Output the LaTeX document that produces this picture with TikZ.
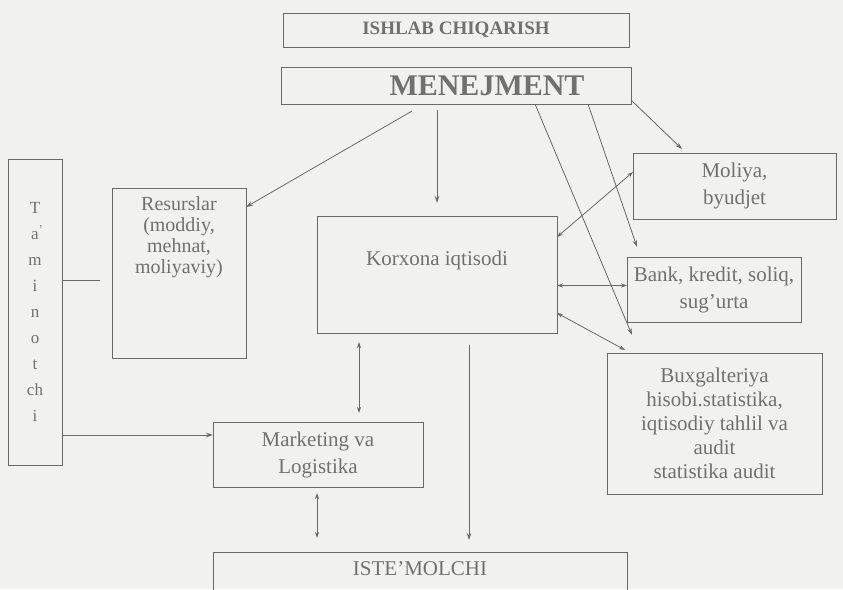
\documentclass[tikz,border=0pt]{standalone}
\usepackage{fontspec}
\setmainfont{Liberation Serif}
\usetikzlibrary{arrows.meta}
\definecolor{ink}{RGB}{105,105,105}
\definecolor{txt}{RGB}{112,112,112}
\definecolor{bg}{RGB}{241,241,239}
\tikzset{
  box/.style={draw=ink, line width=0.8pt, inner sep=0pt, outer sep=0pt, align=center, text=txt},
  conn/.style={draw=ink, line width=0.8pt},
  arr/.style={conn, -{Stealth[length=7pt,width=4.5pt]}},
  dbl/.style={conn, {Stealth[length=6pt,width=4pt]}-{Stealth[length=6pt,width=4pt]}},
  tx/.style={text=txt, align=center, inner sep=0pt}
}
\begin{document}
\begin{tikzpicture}[x=1pt,y=-1pt]
\clip (0,0) rectangle (843,589);
\fill[bg] (0,0) rectangle (843,589);

% nodes
\node[box, minimum width=346pt, minimum height=34pt, font=\fontsize{19}{22}\selectfont\bfseries] (ish) at (456,30) {ISHLAB CHIQARISH};
\node[box, minimum width=350pt, minimum height=37pt, font=\fontsize{30}{32}\selectfont\bfseries] (men) at (456,85.5) {\hspace*{62pt}MENEJMENT};
\node[box, minimum width=54pt, minimum height=306pt, font=\fontsize{17}{26}\selectfont] (ta) at (35,312) {T\\a\rlap{\textsuperscript{’}}\\m\\i\\n\\o\\t\\ch\\i};
\node[box, minimum width=134pt, minimum height=170pt,
  label={[tx, anchor=center, yshift=-49.5pt, font=\fontsize{20}{21}\selectfont]north:{Resurslar\\(moddiy,\\mehnat,\\moliyaviy)}}] (res) at (179,273) {};
\node[box, minimum width=240pt, minimum height=117pt,
  label={[tx, anchor=center, yshift=-44pt, font=\fontsize{21}{24}\selectfont]north:{Korxona iqtisodi}}] (kor) at (437,274.5) {};
\node[box, minimum width=203pt, minimum height=66pt, font=\fontsize{21}{27}\selectfont] (mol) at (734.5,186) {Moliya,\\byudjet};
\node[box, minimum width=174pt, minimum height=65pt, font=\fontsize{21}{27}\selectfont] (bank) at (714,289.5) {Bank, kredit, soliq,\\sug’urta};
\node[box, minimum width=215pt, minimum height=141pt, font=\fontsize{21}{24}\selectfont] (bux) at (714.5,423.5) {Buxgalteriya\\hisobi.statistika,\\iqtisodiy tahlil va\\audit\\statistika audit};
\node[box, minimum width=210pt, minimum height=65pt, font=\fontsize{21}{27}\selectfont] (mkt) at (318,454.5) {Marketing va\\Logistika};
\node[box, minimum width=414pt, minimum height=68pt,
  label={[tx, anchor=center, yshift=-17pt, font=\fontsize{21}{24}\selectfont]north:{ISTE’MOLCHI}}] (iste) at (420,586) {};

% connectors
\draw[arr] ([xshift=-44pt,yshift=-7pt]men.south) -- ([yshift=-19pt]res.north east);
\draw[arr] ([xshift=-19pt,yshift=-6pt]men.south) -- ([yshift=13pt]kor.north);
\draw[arr] ([yshift=4pt]men.south east) -- ([xshift=49pt,yshift=4pt]mol.north west);
\draw[arr] ([xshift=132pt]men.south) -- ([xshift=10pt,yshift=10pt]bank.north west);
\draw[arr] ([xshift=79pt]men.south) -- ([xshift=25pt,yshift=18pt]bux.north west);
\draw[dbl] ([yshift=-21pt]kor.north east) -- ([yshift=-19pt]mol.north west);
\path ([yshift=4pt]bank.west) coordinate (bw);
\draw[dbl] (kor.east |- bw) -- (bw);
\draw[dbl] ([yshift=20pt]kor.south east) -- ([xshift=18pt,yshift=3pt]bux.north west);
\draw[dbl] ([xshift=-78pt,yshift=-9pt]kor.south) -- ([xshift=41pt,yshift=9pt]mkt.north);
\draw[arr] ([xshift=32pt,yshift=-12pt]kor.south) -- ([xshift=49pt,yshift=12pt]iste.north);
\draw[dbl] ([xshift=-1pt,yshift=-6pt]mkt.south) -- ([xshift=-103pt,yshift=14pt]iste.north);
\coordinate (tr) at (100,280);
\draw[conn] (ta.east |- tr) -- (tr);
\path ([yshift=19.5pt]mkt.west) coordinate (mw);
\draw[arr] (ta.east |- mw) -- (mw);
\end{tikzpicture}
\end{document}
